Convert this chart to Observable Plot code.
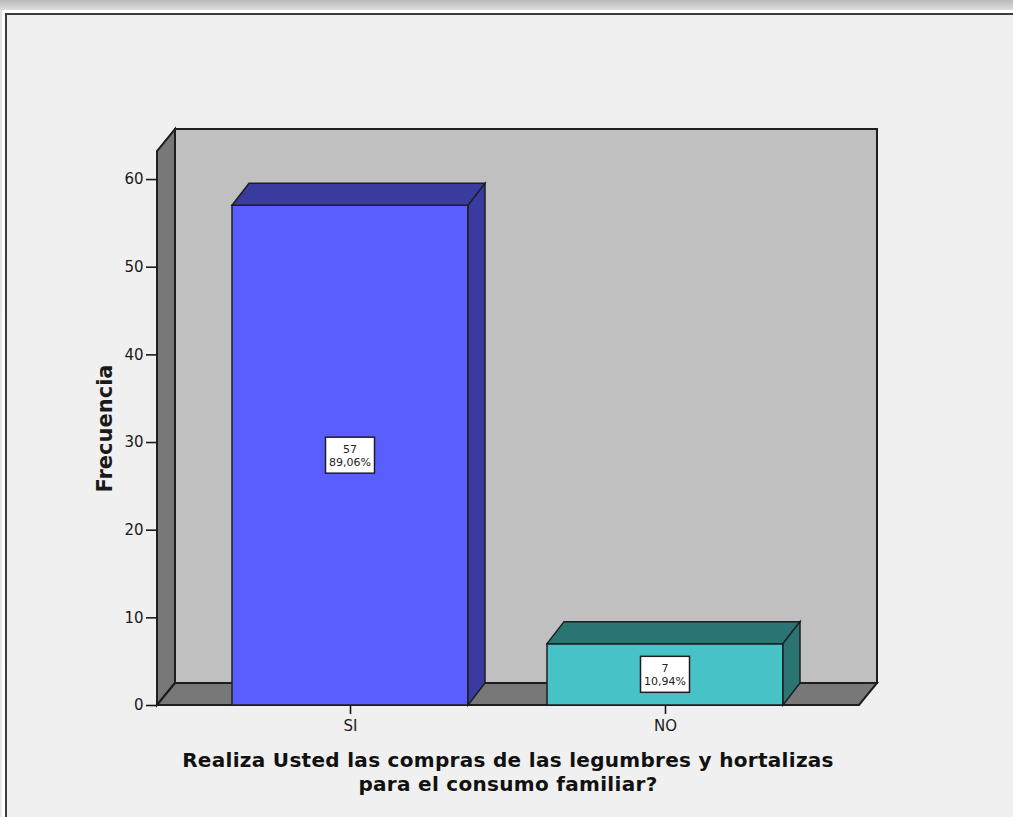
<!DOCTYPE html>
<html>
<head>
<meta charset="utf-8">
<script src="https://cdn.jsdelivr.net/npm/d3@7"></script>
<script src="https://cdn.jsdelivr.net/npm/@observablehq/plot@0.6"></script>
<style>
  html, body { margin: 0; padding: 0; }
  body {
    width: 1013px; height: 817px; overflow: hidden; position: relative;
    background: linear-gradient(#b9b9b9 0px, #d0d0d0 6px, #e2e2e2 11px, #e6e6e6 100%);
    font-family: "DejaVu Sans", sans-serif;
  }
  #frame {
    position: absolute; left: 5px; top: 13px; width: 1020px; height: 820px;
    border-left: 2px solid #3c3c3c; border-top: 2px solid #3c3c3c;
    background: #f0f0f0;
    box-shadow: -2px -2px 0 1px #ffffff;
  }
  #chart { position: absolute; left: 0; top: 0; }
  #xtitle {
    position: absolute; left: 107px; width: 802px; top: 749px;
    text-align: center; font-weight: bold; font-size: 20px; letter-spacing: 0.3px;
    line-height: 23.5px; color: #111;
  }
  g[aria-label="y-axis label"] { font-size: 21px; font-weight: bold; }
</style>
</head>
<body>
<div id="frame"></div>
<div id="chart"></div>
<div id="xtitle">Realiza Usted las compras de las legumbres y hortalizas<br>para el consumo familiar?</div>
<script>
// ---- data ----
const categories = ["SI", "NO"];
const counts = [57, 7];
const percents = ["89,06%", "10,94%"];
const frontColors = ["#5a5eff", "#47c2c6"];
const shadeColors = ["#393c9e", "#2a7474"];
const yTicks = [0, 10, 20, 30, 40, 50, 60];
const yMax = 63.2;

// ---- style ----
const wallDepth = { dx: 18, dy: -22 };
const barDepth = { dx: 17, dy: -22 };
const edge = "#1e1e1e";

const rows = categories.map((c, i) => ({
  cat: c, n: counts[i], pct: percents[i], front: frontColors[i], shade: shadeColors[i]
}));

function poly(g, pts, fill, sw = 1.5) {
  g.append("polygon")
    .attr("points", pts.map(p => p.join(",")).join(" "))
    .attr("fill", fill).attr("stroke", edge)
    .attr("stroke-width", sw).attr("stroke-linejoin", "miter");
}

// Walls (back, left, floor) from the scales' extents
const walls = (index, scales) => {
  const { x, y } = scales;
  const [xl, xr] = x.range();
  const y0 = y(0), yt = y(yMax);
  const { dx, dy } = wallDepth;
  const g = d3.create("svg:g").attr("aria-label", "walls");
  poly(g, [[xl + dx, yt + dy], [xr + dx, yt + dy], [xr + dx, y0 + dy], [xl + dx, y0 + dy]], "#c0c0c0", 2);
  poly(g, [[xl, y0], [xl, yt], [xl + dx, yt + dy], [xl + dx, y0 + dy]], "#787878", 2);
  poly(g, [[xl, y0], [xr, y0], [xr + dx, y0 + dy], [xl + dx, y0 + dy]], "#787878", 2);
  return g.node();
};

const bars = Plot.barY(rows, {
  x: "cat", y: "n",
  render(index, scales, values, dimensions, context) {
    const { x, y } = scales;
    const bw = x.bandwidth();
    const { dx, dy } = barDepth;
    const g = d3.create("svg:g").attr("aria-label", "bars3d");
    for (const i of index) {
      const d = rows[i];
      const x0 = x(d.cat), x1 = x0 + bw, yt = y(d.n), yb = y(0);
      poly(g, [[x0, yb], [x0, yt], [x1, yt], [x1, yb]], d.front);
      poly(g, [[x0, yt], [x1, yt], [x1 + dx, yt + dy], [x0 + dx, yt + dy]], d.shade);
      poly(g, [[x1, yt], [x1 + dx, yt + dy], [x1 + dx, yb + dy], [x1, yb]], d.shade);
      // value label box
      const cx = x0 + bw / 2, cy = y(d.n / 2);
      g.append("rect").attr("x", cx - 24.5).attr("y", cy - 18).attr("width", 49).attr("height", 36)
        .attr("fill", "#ffffff").attr("stroke", edge).attr("stroke-width", 1.5);
      const t = g.append("text").attr("text-anchor", "middle").attr("font-size", 11)
        .attr("fill", "#222");
      t.append("tspan").attr("x", cx).attr("y", cy - 2).text(String(d.n));
      t.append("tspan").attr("x", cx).attr("y", cy + 11).text(d.pct);
    }
    return g.node();
  }
});

const chart = Plot.plot({
  width: 1013,
  height: 745,
  marginLeft: 157,
  marginRight: 154,
  marginTop: 151,
  marginBottom: 40,
  style: { background: "none", fontFamily: "DejaVu Sans", color: "#1a1a1a", overflow: "visible" },
  x: { type: "band", domain: categories, paddingInner: 0.25, paddingOuter: 0.237, axis: null },
  y: { domain: [0, yMax], axis: null },
  marks: [
    walls,
    bars,
    Plot.axisY({
      ticks: yTicks, tickSize: 11, tickPadding: 3, fontSize: 15, strokeWidth: 1.6,
      label: "Frecuencia", labelAnchor: "center", labelArrow: "none", labelOffset: 60
    }),
    Plot.axisX({ tickSize: 9, tickPadding: 6, fontSize: 15, strokeWidth: 1.6, label: null })
  ]
});
document.getElementById("chart").appendChild(chart);
</script>
</body>
</html>
